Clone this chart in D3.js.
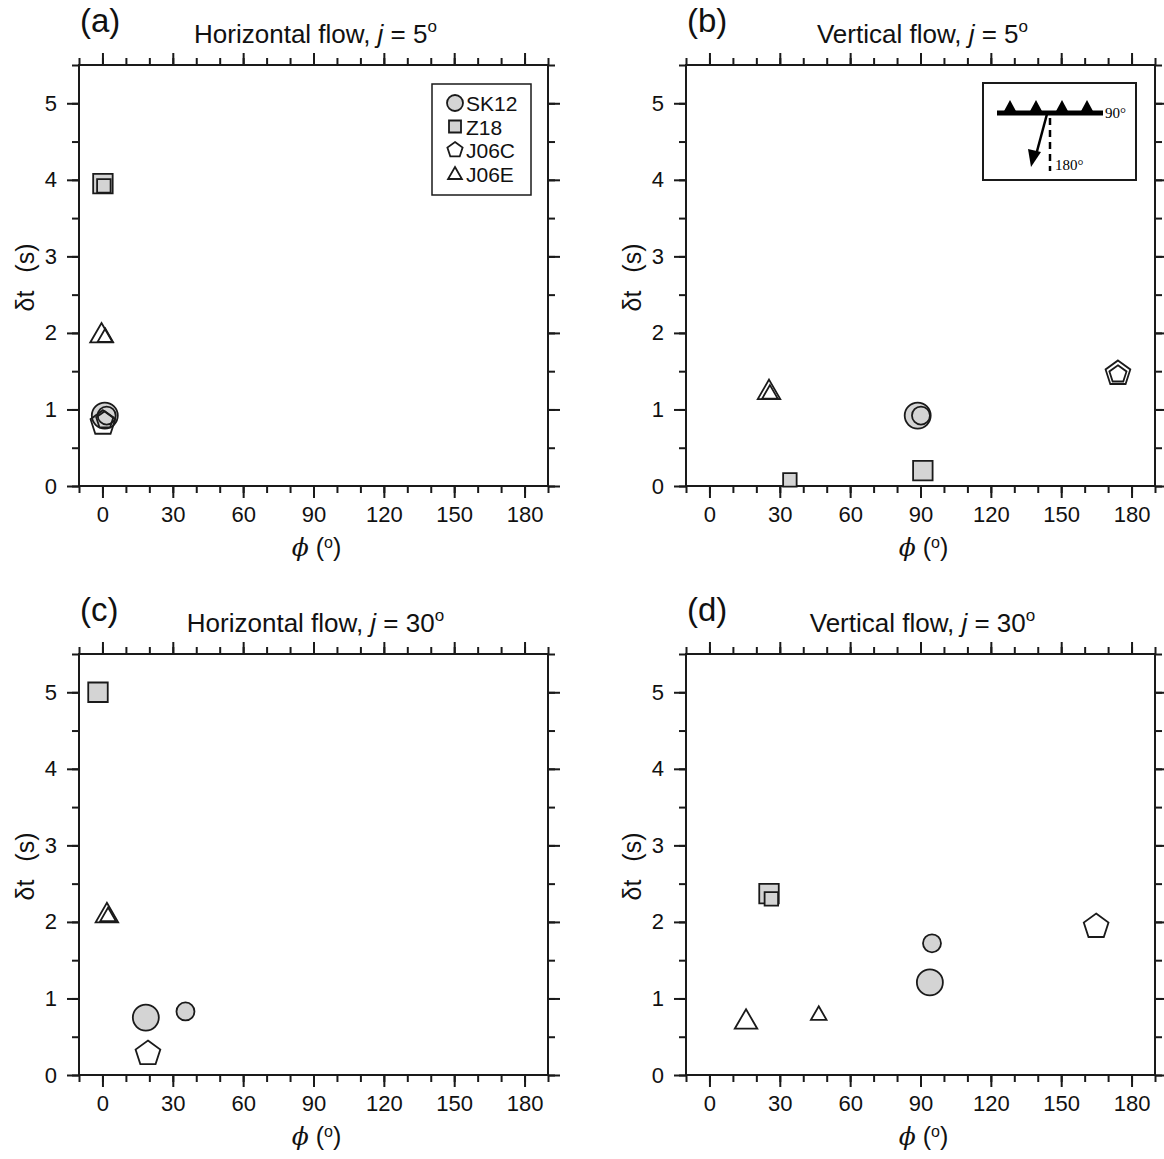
<!DOCTYPE html>
<html>
<head>
<meta charset="utf-8">
<script src="https://cdn.jsdelivr.net/npm/d3@7"></script>
<style>
    body { margin: 0; background: #fff; }
    svg { display: block; font-family: "Liberation Sans", Arial, sans-serif; }
</style>
</head>
<body>
<svg id="fig" width="1164" height="1159"></svg>
<script>
(function () {
    'use strict';

    // --- Data ----------------------------------------------------------

    var panelLabels = ['(a)', '(b)', '(c)', '(d)'];
    var flowTypes = ['Horizontal flow', 'Vertical flow', 'Horizontal flow', 'Vertical flow'];
    var dipAngles = [5, 5, 30, 30];
    var models = ['SK12', 'Z18', 'J06C', 'J06E'];

    var phiTicks = [0, 30, 60, 90, 120, 150, 180];
    var dtTicks = [0, 1, 2, 3, 4, 5];

    // [model, phi (deg), dt (s), layer]   layer L = large symbol, S = small
    var pointsA = [
        ['SK12', 1.0, 0.92, 'L'], ['SK12', 1.8, 0.92, 'S'],
        ['Z18', 0.2, 3.95, 'L'], ['Z18', 0.6, 3.92, 'S'],
        ['J06C', 0.2, 0.82, 'L'], ['J06C', 1.0, 0.86, 'S'],
        ['J06E', -0.4, 1.96, 'L'], ['J06E', 1.2, 1.94, 'S']
    ];
    var pointsB = [
        ['SK12', 88.8, 0.92, 'L'], ['SK12', 90.2, 0.92, 'S'],
        ['Z18', 91.0, 0.20, 'L'], ['Z18', 34.3, 0.08, 'S'],
        ['J06C', 174.2, 1.47, 'L'], ['J06C', 174.2, 1.46, 'S'],
        ['J06E', 25.4, 1.22, 'L'], ['J06E', 25.8, 1.20, 'S']
    ];
    var pointsC = [
        ['SK12', 18.5, 0.75, 'L'], ['SK12', 35.4, 0.83, 'S'],
        ['Z18', -1.9, 5.00, 'L'],
        ['J06C', 19.4, 0.28, 'L'],
        ['J06E', 1.9, 2.08, 'L'], ['J06E', 2.4, 2.07, 'S']
    ];
    var pointsD = [
        ['SK12', 94.0, 1.21, 'L'], ['SK12', 94.9, 1.72, 'S'],
        ['Z18', 25.4, 2.37, 'L'], ['Z18', 26.4, 2.30, 'S'],
        ['J06C', 164.9, 1.94, 'L'],
        ['J06E', 15.6, 0.69, 'L'], ['J06E', 46.6, 0.78, 'S']
    ];
    var panelPoints = [pointsA, pointsB, pointsC, pointsD];

    // --- Layout --------------------------------------------------------

    var svg = d3.select('#fig'),
        frameW = 469,
        frameH = 421,
        origins = [[79, 65], [686, 65], [79, 654], [686, 654]];

    var x = d3.scaleLinear().domain([-10, 190]).range([0, frameW]),
        y = d3.scaleLinear().domain([0, 5.5]).range([frameH, 0]),
        radius = d3.scaleOrdinal().domain(['L', 'S']).range([13, 9]);

    var ink = '#1a1a1a',
        grey = '#d4d4d4';

    // --- Symbols -------------------------------------------------------

    function polygon(n, r, rot) {
        var pts = d3.range(n).map(function (i) {
            var a = rot + i * 2 * Math.PI / n;
            return [r * Math.sin(a), -r * Math.cos(a)];
        });
        return 'M' + pts.join('L') + 'Z';
    }

    function symbolPath(model, r) {
        if (model === 'SK12') {
            return 'M' + r + ',0A' + r + ',' + r + ' 0 1,1 ' + (-r) + ',0A' +
                r + ',' + r + ' 0 1,1 ' + r + ',0Z';
        }
        if (model === 'Z18') {
            var h = r * 0.75;
            return 'M' + (-h) + ',' + (-h) + 'H' + h + 'V' + h + 'H' + (-h) + 'Z';
        }
        if (model === 'J06C') {
            return polygon(5, r, 0);
        }
        return polygon(3, r, 0);
    }

    function isFilled(model) {
        return model === 'SK12' || model === 'Z18';
    }

    function drawSymbol(g, model, r, cx, cy) {
        g.append('path')
            .attr('d', symbolPath(model, r))
            .attr('transform', 'translate(' + cx + ',' + cy + ')')
            .attr('fill', isFilled(model) ? grey : 'none')
            .attr('stroke', ink)
            .attr('stroke-width', 1.8)
            .attr('stroke-linejoin', 'miter');
    }

    // --- Axes ----------------------------------------------------------

    function styleAxis(sel) {
        sel.select('.domain').remove();
        sel.selectAll('line').attr('stroke', ink).attr('stroke-width', 2);
        sel.selectAll('text').attr('fill', '#111').attr('font-size', 22);
    }

    function addAxes(g) {
        var minorX = d3.range(-10, 191, 10),
            minorY = d3.range(0, 5.51, 0.5);

        [[d3.axisBottom, 'translate(0,' + frameH + ')', true],
         [d3.axisTop, 'translate(0,0)', false]].forEach(function (a) {
            g.append('g').attr('transform', a[1])
                .call(a[0](x).tickValues(minorX).tickSize(7).tickFormat(''))
                .call(styleAxis);
            g.append('g').attr('transform', a[1])
                .call(a[0](x).tickValues(phiTicks).tickSize(12).tickPadding(8)
                    .tickFormat(a[2] ? d3.format('d') : ''))
                .call(styleAxis);
        });

        [[d3.axisLeft, 'translate(0,0)', true],
         [d3.axisRight, 'translate(' + frameW + ',0)', false]].forEach(function (a) {
            g.append('g').attr('transform', a[1])
                .call(a[0](y).tickValues(minorY).tickSize(7).tickFormat(''))
                .call(styleAxis);
            g.append('g').attr('transform', a[1])
                .call(a[0](y).tickValues(dtTicks).tickSize(12).tickPadding(10)
                    .tickFormat(a[2] ? d3.format('d') : ''))
                .call(styleAxis);
        });

        g.append('rect')
            .attr('width', frameW).attr('height', frameH)
            .attr('fill', 'none').attr('stroke', ink).attr('stroke-width', 2);

        // x label: phi (o)
        var xl = g.append('text')
            .attr('x', frameW / 2 + 3).attr('y', frameH + 70)
            .attr('text-anchor', 'middle').attr('font-size', 25).attr('fill', '#111');
        xl.append('tspan').attr('font-style', 'italic')
            .attr('font-family', '"DejaVu Serif", serif').text('\u03d5');
        xl.append('tspan').text(' (');
        xl.append('tspan').attr('font-size', 16).attr('dy', -8).text('o');
        xl.append('tspan').attr('dy', 8).text(')');

        // y label: dt (s)
        var yl = g.append('text')
            .attr('transform', 'translate(-45,' + (frameH / 2 + 2) + ') rotate(-90)')
            .attr('text-anchor', 'middle').attr('font-size', 25).attr('fill', '#111');
        yl.append('tspan').text('\u03b4t');
        yl.append('tspan').attr('dx', 18).text('(s)');
    }

    // --- Titles --------------------------------------------------------

    function addTitle(g, i) {
        g.append('text')
            .attr('x', 1).attr('y', -33)
            .attr('font-size', 33).attr('fill', '#111')
            .text(panelLabels[i]);

        var t = g.append('text')
            .attr('x', frameW / 2 + 2).attr('y', -22)
            .attr('text-anchor', 'middle').attr('font-size', 26).attr('fill', '#111');
        t.append('tspan').text(flowTypes[i] + ', ');
        t.append('tspan').attr('font-style', 'italic').text('j');
        t.append('tspan').text(' = ' + dipAngles[i]);
        t.append('tspan').attr('font-size', 17).attr('dy', -11).text('o');
    }

    // --- Legend (panel a) and inset (panel b) --------------------------

    function addLegend(g) {
        var lg = g.append('g').attr('transform', 'translate(353,19)');
        lg.append('rect')
            .attr('width', 99).attr('height', 111)
            .attr('fill', '#fff').attr('stroke', ink).attr('stroke-width', 1.5);
        models.forEach(function (m, k) {
            var cy = 19 + k * 23.5;
            drawSymbol(lg, m, 8, 23, m === 'J06E' ? cy + 1.5 : cy);
            lg.append('text')
                .attr('x', 34).attr('y', cy + 8)
                .attr('font-size', 21).attr('fill', '#111')
                .text(m);
        });
    }

    function addInset(g) {
        var ig = g.append('g').attr('transform', 'translate(297,18)'),
            serif = '"Liberation Serif", "Times New Roman", serif';

        ig.append('rect')
            .attr('width', 153).attr('height', 97)
            .attr('fill', '#fff').attr('stroke', ink).attr('stroke-width', 2);

        // fault trace with barbs
        ig.append('line')
            .attr('x1', 14).attr('x2', 120).attr('y1', 30).attr('y2', 30)
            .attr('stroke', '#000').attr('stroke-width', 5);
        [27, 53, 79, 104].forEach(function (bx) {
            ig.append('path')
                .attr('d', 'M' + (bx - 7) + ',30L' + bx + ',17L' + (bx + 7) + ',30Z')
                .attr('fill', '#000');
        });
        ig.append('text').attr('x', 122).attr('y', 35)
            .attr('font-family', serif).attr('font-size', 15).text('90\u00b0');

        // dashed reference and flow arrow
        ig.append('line')
            .attr('x1', 67).attr('x2', 67).attr('y1', 35).attr('y2', 88)
            .attr('stroke', '#000').attr('stroke-width', 2.5)
            .attr('stroke-dasharray', '7,5');
        ig.append('line')
            .attr('x1', 64).attr('y1', 31).attr('x2', 53).attr('y2', 72)
            .attr('stroke', '#000').attr('stroke-width', 2.5);
        ig.append('path')
            .attr('d', 'M48,84L45,66L58,69Z')
            .attr('fill', '#000');
        ig.append('text').attr('x', 72).attr('y', 87)
            .attr('font-family', serif).attr('font-size', 15).text('180\u00b0');
    }

    // --- Panels --------------------------------------------------------

    origins.forEach(function (o, i) {
        var g = svg.append('g')
            .attr('transform', 'translate(' + o[0] + ',' + o[1] + ')');

        addAxes(g);
        addTitle(g, i);

        var pg = g.append('g');
        panelPoints[i].forEach(function (p) {
            drawSymbol(pg, p[0], radius(p[3]), x(p[1]), y(p[2]));
        });

        if (i === 0) { addLegend(g); }
        if (i === 1) { addInset(g); }
    });
}());
</script>
</body>
</html>
